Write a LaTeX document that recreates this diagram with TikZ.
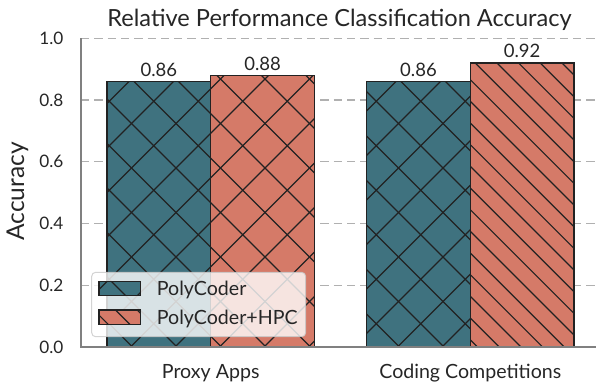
\documentclass[tikz,border=0pt]{standalone}
\usepackage{fontspec}
\setmainfont{Lato}
\definecolor{tealbar}{RGB}{63,114,127}
\definecolor{orangebar}{RGB}{213,122,104}
\definecolor{txt}{RGB}{38,38,38}
\definecolor{gridc}{RGB}{176,176,176}
\definecolor{spinec}{RGB}{128,128,128}
\definecolor{edgec}{RGB}{34,34,34}
\newcommand\hatchX[4]{%
  \begin{scope}
    \clip (#1,#2) rectangle (#3,#4);
    \foreach \i in {-8,...,16} {
      \draw[hatchline] ({8+44.5*\i},0) -- ({8+44.5*\i+400},400);
      \draw[hatchline] ({255+44.5*\i},0) -- ({255+44.5*\i-400},400);
    }
  \end{scope}}
\newcommand\hatchD[4]{%
  \begin{scope}
    \clip (#1,#2) rectangle (#3,#4);
    \foreach \i in {-32,...,6} {
      \draw[hatchline] ({412.3+21.67*\i},0) -- ({412.3+21.67*\i+400},400);
    }
  \end{scope}}
\begin{document}
\begin{tikzpicture}[x=1bp,y=-1bp,
  hatchline/.style={draw=edgec,line width=1.2bp},
  edge/.style={draw=edgec,line width=1.5bp},
  gridline/.style={draw=gridc,line width=1.3bp,dash pattern=on 8.3bp off 5bp},
  spine/.style={draw=spinec,line width=2.4bp},
  tick/.style={font=\fontsize{17.2bp}{19bp}\selectfont,text=txt,inner sep=0pt},
  val/.style={font=\fontsize{18.5bp}{20bp}\selectfont,text=txt,inner sep=0pt},
  lbl/.style={font=\fontsize{19.6bp}{21bp}\selectfont,text=txt,inner sep=0pt},
  ttl/.style={font=\fontsize{23.6bp}{25bp}\selectfont,text=txt,inner sep=0pt},
  ylb/.style={font=\fontsize{24.5bp}{26bp}\selectfont,text=txt,inner sep=0pt}]
\useasboundingbox (0,0) rectangle (596,384);
% grid
\foreach \v in {0.2,0.4,0.6,0.8,1.0}
  \draw[gridline] (81,{347-308.7*\v}) -- (596,{347-308.7*\v});
% bars
\fill[tealbar] (107,81.5) rectangle (210.7,347);
\hatchX{107}{81.5}{210.7}{347}
\fill[orangebar] (210.7,75.3) rectangle (314.4,347);
\hatchX{210.7}{75.3}{314.4}{347}
\fill[tealbar] (366.7,81.5) rectangle (470.3,347);
\hatchX{366.7}{81.5}{470.3}{347}
\fill[orangebar] (470.3,63) rectangle (574,347);
\hatchD{470.3}{63}{574}{347}
\draw[edge] (107,347) -- (107,81.5) -- (210.7,81.5) -- (210.7,347);
\draw[edge] (210.7,347) -- (210.7,75.3) -- (314.4,75.3) -- (314.4,347);
\draw[edge] (366.7,347) -- (366.7,81.5) -- (470.3,81.5) -- (470.3,347);
\draw[edge] (470.3,347) -- (470.3,63) -- (574,63) -- (574,347);
% spines
\draw[spine] (81,38.3) -- (81,347) -- (596,347);
% y ticks
\node[tick,anchor=east] (t0) at (63.5,347) {0.0};
\node[tick,anchor=east] (t2) at (63.5,{347-308.7*0.2}) {0.2};
\node[tick,anchor=east] (t4) at (63.5,{347-308.7*0.4}) {0.4};
\node[tick,anchor=east] (t6) at (63.5,{347-308.7*0.6}) {0.6};
\node[tick,anchor=east] (t8) at (63.5,{347-308.7*0.8}) {0.8};
\node[tick,anchor=east] (t10) at (63.5,{347-308.7*1.0}) {1.0};
% axis label
\node[ylb,rotate=90,anchor=base] (ylab) at (24,191.5) {Accuracy};
% title
\node[ttl,anchor=base] (title) at (339.5,26.7) {Relative Performance Classification Accuracy};
% x labels
\node[lbl,anchor=base] (xl1) at (210.7,378.3) {Proxy Apps};
\node[lbl,anchor=base] (xl2) at (470.3,378.3) {Coding Competitions};
% value labels
\node[val,anchor=base] (v1) at (158.85,76.2) {0.86};
\node[val,anchor=base] (v2) at (262.55,70) {0.88};
\node[val,anchor=base] (v3) at (418.5,76.2) {0.86};
\node[val,anchor=base] (v4) at (522.15,57) {0.92};
% legend
\fill[white,fill opacity=0.8,rounded corners=4bp] (91.7,272.3) rectangle (305.7,336.7);
\draw[draw=gridc!70,line width=1bp,draw opacity=0.8,rounded corners=4bp] (91.7,272.3) rectangle (305.7,336.7);
\fill[tealbar] (99,281.3) rectangle (140.3,295.6);
\hatchX{99}{281.3}{140.3}{295.6}
\draw[edge] (99,281.3) rectangle (140.3,295.6);
\fill[orangebar] (99,310) rectangle (140.3,324.3);
\hatchD{99}{310}{140.3}{324.3}
\draw[edge] (99,310) rectangle (140.3,324.3);
\node[lbl,anchor=base west] (leg1) at (156.7,295) {PolyCoder};
\node[lbl,anchor=base west] (leg2) at (156.7,324) {PolyCoder+HPC};
\end{tikzpicture}
\end{document}
